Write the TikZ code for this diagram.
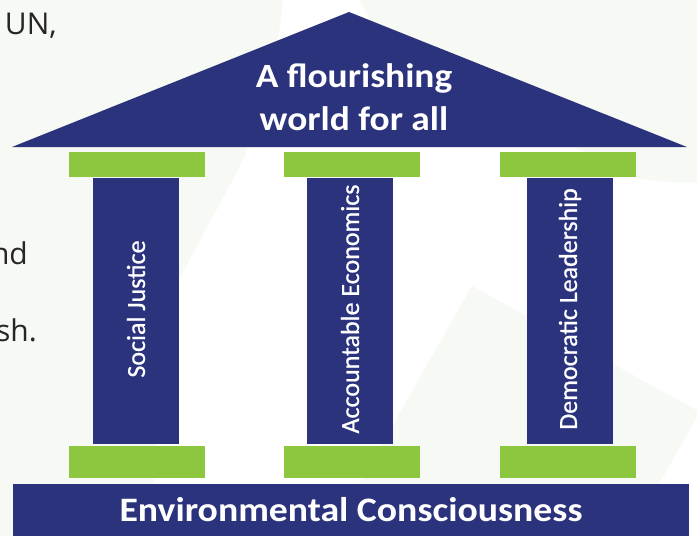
\documentclass[tikz,border=0pt]{standalone}
\usepackage{fontspec}
\setmainfont{Carlito}
\newfontfamily\wideFont[FakeStretch=1.1]{Carlito}
\newfontfamily\pillarFont[FakeBold=0.8]{Carlito}
\newfontfamily\slideFont{Open Sans}
\definecolor{pillarblue}{RGB}{44,51,125}
\definecolor{capgreen}{RGB}{141,198,63}
\definecolor{backtint}{RGB}{247,249,244}
\definecolor{slidetext}{RGB}{38,38,38}
\tikzstyle{node_cap} = [rectangle, fill=capgreen, inner sep=0pt, minimum width=136pt]
\tikzstyle{node_pillar} = [rectangle, fill=pillarblue, inner sep=0pt, minimum width=86pt, minimum height=266pt]
\tikzstyle{text_pillar} = [text=white, rotate=90, inner sep=0pt, font=\pillarFont\fontsize{26}{30}\selectfont]
\tikzstyle{text_slide} = [anchor=base east, inner sep=0pt, text=slidetext, font=\slideFont\fontsize{30}{36}\selectfont]

\begin{document}
\begin{tikzpicture}[x=1pt,y=-1pt]
\useasboundingbox (0,0) rectangle (697,536);
\clip (0,0) rectangle (697,536);
% faint shapes of the slide behind
\fill[backtint] (0,0) -- (283,0) .. controls (276,70) and (260,125) .. (238,170) -- (165,305) -- (153,484) -- (153,536) -- (0,536) -- cycle;
\fill[backtint] (360,0) -- (697,0) -- (697,182) .. controls (665,183) and (640,180) .. (625,175) -- (380,40) -- cycle;
\fill[backtint] (472,286) -- (700,412) -- (571,638) -- (343,512) -- cycle;

% cut-off slide text
\node (frag_un) at (57,34) [text_slide] {UN,};
\node (frag_nd) at (28,264) [text_slide] {nd};
\node (frag_sh) at (37,341) [text_slide] {sh.};

% roof
\coordinate (roof_l) at (12,147);
\coordinate (roof_t) at (349,12);
\coordinate (roof_r) at (687,147);
\fill[pillarblue] (roof_l) -- (roof_t) -- (roof_r) -- cycle;
\node (roof_text) at (354,97) [align=center, text=white, font=\wideFont\bfseries\fontsize{34}{43}\selectfont] {A flourishing\\world for all};

% capitals
\node (CT1) at (137,164.5) [node_cap, minimum height=25pt] {};
\node (CT2) at (352,164.5) [node_cap, minimum height=25pt] {};
\node (CT3) at (568,164.5) [node_cap, minimum height=25pt] {};

% pillars
\node (P1) at (136,311) [node_pillar] {};
\node (P2) at (350,311) [node_pillar] {};
\node (P3) at (570,311) [node_pillar] {};
\node at ([yshift=2pt]P1.center) [text_pillar] {Social Justice};
\node at ([yshift=2pt]P2.center) [text_pillar] {Accountable Economics};
\node at ([yshift=2pt]P3.center) [text_pillar] {Democratic Leadership};

% feet
\node (CB1) at (137,462) [node_cap, minimum height=32pt] {};
\node (CB2) at (352,462) [node_cap, minimum height=32pt] {};
\node (CB3) at (568,462) [node_cap, minimum height=32pt] {};

% base
\node (base) at (351,510) [rectangle, fill=pillarblue, inner sep=0pt, minimum width=676pt, minimum height=52pt] {};
\node (base_text) at (base.center) [text=white, font=\wideFont\bfseries\fontsize{34.3}{38}\selectfont] {Environmental Consciousness};
\end{tikzpicture}
\end{document}
